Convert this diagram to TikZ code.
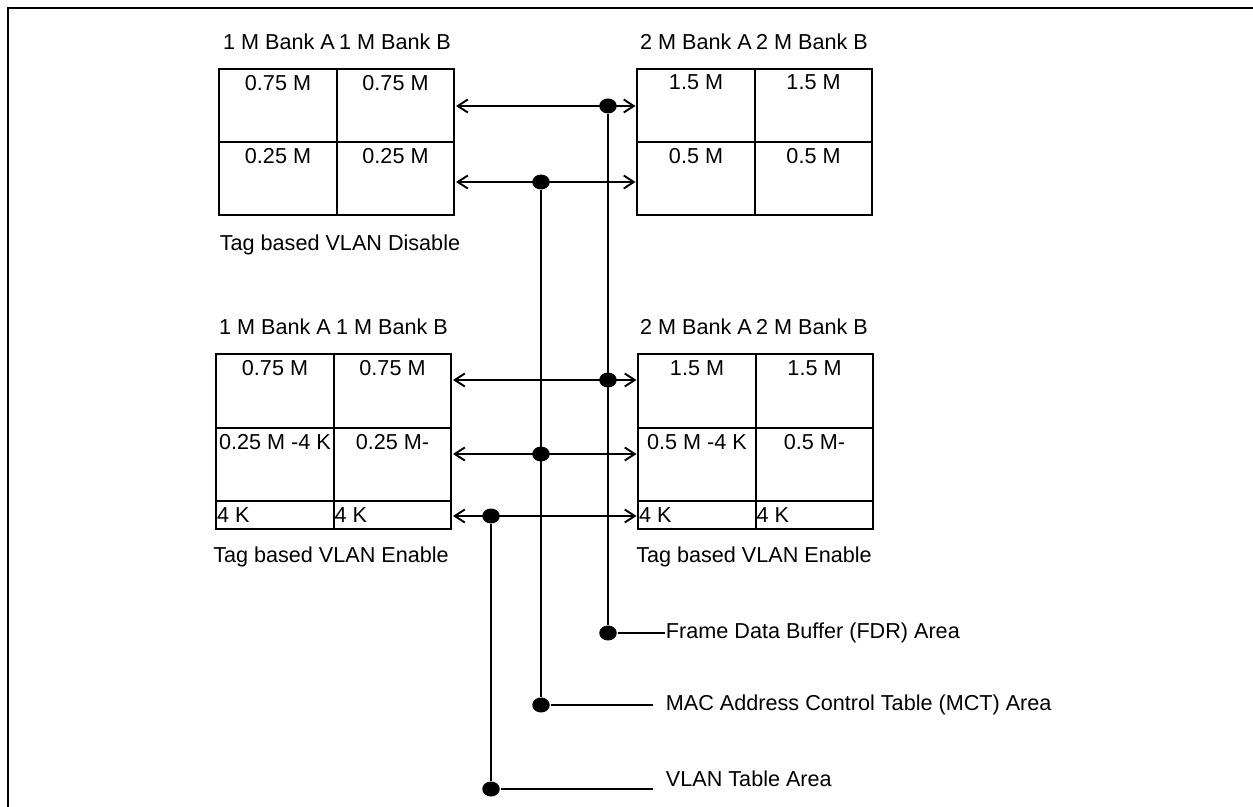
\documentclass[tikz,border=0pt]{standalone}
\usepackage{fontspec}
\setmainfont{Liberation Sans}
\usetikzlibrary{arrows.meta, shapes.geometric}
\tikzset{
  every picture/.style={font=\fontsize{12.3}{14}\selectfont, line width=1.1pt},
  cell/.style={draw, minimum width=2.35cm, minimum height=1.47cm, inner sep=0pt, outer sep=0pt},
  kcell/.style={cell, minimum height=0.56cm},
  celltext/.style={label={[anchor=north, inner sep=3pt]north:#1}},
  ktext/.style={label={[anchor=west, inner sep=0pt]west:#1}},
  link/.style={{Straight Barb[length=2mm, width=2.6mm]}-{Straight Barb[length=2mm, width=2.6mm]}, shorten <=1pt, shorten >=1pt},
  dot/.style={ellipse, fill, inner sep=0pt, minimum width=0.35cm, minimum height=0.3cm},
  area/.style={anchor=west, inner sep=0pt},
  frame/.style={line width=1.5pt},
}
\begin{document}
\begin{tikzpicture}[x=0.02cm, y=-0.02cm]
  \useasboundingbox (0,0) rectangle (1253,807);
  \draw[frame] (1275,8) -| (8,830);
  % tag based VLAN disable, 1 M banks
  \node (dlta) at (279,42) {1 M Bank A};
  \node (dltb) at (395,42) {1 M Bank B};
  \node[cell, celltext=0.75 M] (dla1) at (278,105.5) {};
  \node[cell, celltext=0.75 M] (dlb1) at (395.5,105.5) {};
  \node[cell, celltext=0.25 M] (dla2) at (278,178.5) {};
  \node[cell, celltext=0.25 M] (dlb2) at (395.5,178.5) {};
  \node (dcap) at (340,245) {Tag based VLAN Disable};
  % 2 M banks
  \node (drta) at (696,42) {2 M Bank A};
  \node (drtb) at (812,42) {2 M Bank B};
  \node[cell, celltext=1.5 M] (dra1) at (696,105.5) {};
  \node[cell, celltext=1.5 M] (drb1) at (813.5,105.5) {};
  \node[cell, celltext=0.5 M] (dra2) at (696,178.5) {};
  \node[cell, celltext=0.5 M] (drb2) at (813.5,178.5) {};
  % tag based VLAN enable, 1 M banks
  \node (elta) at (275,327) {1 M Bank A};
  \node (eltb) at (392,327) {1 M Bank B};
  \node[cell, celltext=0.75 M] (ela1) at (275,391) {};
  \node[cell, celltext=0.75 M] (elb1) at (392.5,391) {};
  \node[cell, celltext=0.25 M -4 K] (ela2) at (275,464.5) {};
  \node[cell, celltext=0.25 M-] (elb2) at (392.5,464.5) {};
  \node[kcell, ktext=4 K] (ela3) at (275,515) {};
  \node[kcell, ktext=4 K] (elb3) at (392.5,515) {};
  \node (ecapl) at (331,557) {Tag based VLAN Enable};
  % 2 M banks
  \node (erta) at (696,327) {2 M Bank A};
  \node (ertb) at (812,327) {2 M Bank B};
  \node[cell, celltext=1.5 M] (era1) at (697,391) {};
  \node[cell, celltext=1.5 M] (erb1) at (814.5,391) {};
  \node[cell, celltext=0.5 M -4 K] (era2) at (697,464.5) {};
  \node[cell, celltext=0.5 M-] (erb2) at (814.5,464.5) {};
  \node[kcell, ktext=4 K] (era3) at (697,515) {};
  \node[kcell, ktext=4 K] (erb3) at (814.5,515) {};
  \node (ecapr) at (754,557) {Tag based VLAN Enable};
  % taps
  \node[dot] (f1) at (608,106) {};
  \node[dot] (m1) at (541,182) {};
  \node[dot] (f2) at (608,380) {};
  \node[dot] (m2) at (541,454) {};
  \node[dot] (v2) at (491,516) {};
  \node[dot] (fe) at (608,633) {};
  \node[dot] (me) at (541,705) {};
  \node[dot] (ve) at (491,789) {};
  \foreach \a/\b/\d in {dlb1/dra1/f1, dlb2/dra2/m1, elb1/era1/f2, elb2/era2/m2, elb3/era3/v2}
    \draw[link] (\a.east |- \d) -- (\b.west |- \d);
  \draw (f1) -- (fe);
  \draw (m1) -- (me);
  \draw (v2) -- (ve);
  % areas
  \node[area] (fdr) at (665,633) {Frame Data Buffer (FDR) Area};
  \node[area, inner xsep=0.24cm] (mct) at (653,705) {MAC Address Control Table (MCT) Area};
  \node[area] (vlan) at (665,779) {VLAN Table Area};
  \coordinate (vend) at (653,789);
  \draw (fe) -- (fdr.west);
  \draw (me) -- (mct.west);
  \draw (ve) -- (vend);
\end{tikzpicture}
\end{document}
